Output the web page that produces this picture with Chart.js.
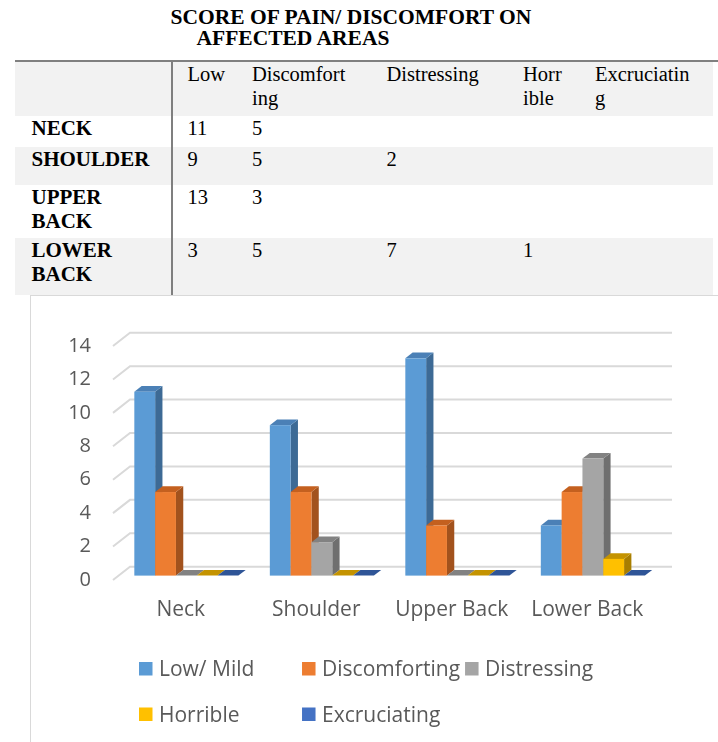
<!DOCTYPE html>
<html>
<head>
<meta charset="utf-8">
<title>Score of pain / discomfort on affected areas</title>
<script src="https://cdn.jsdelivr.net/npm/chart.js@4.4.1/dist/chart.umd.min.js"></script>
<style>
  html, body { margin: 0; padding: 0; background: #ffffff; }
  body {
    width: 718px; height: 742px; position: relative; overflow: hidden;
    font-family: "Liberation Serif", "Times New Roman", serif; color: #000;
  }
  .title {
    position: absolute; font-weight: bold; font-size: 21.5px; line-height: 21.5px;
    white-space: nowrap;
  }
  .cell {
    position: absolute; white-space: nowrap; font-size: 20.5px; line-height: 23.5px;
  }
  .cell.head { font-weight: bold; font-size: 21px; }
  .rowbg { position: absolute; left: 15px; width: 698px; }
  #topRule { position: absolute; left: 15px; top: 60px; width: 703px; height: 2px; background: #808080; }
  #divider { position: absolute; left: 171px; top: 61px; width: 2px; height: 234px; background: #7f7f7f; }
  #panel {
    position: absolute; left: 30px; top: 295px; width: 688px; height: 447px;
    border-left: 1px solid #d9d9d9; border-top: 1px solid #d9d9d9; box-sizing: border-box;
  }
  #chart { position: absolute; left: 31px; top: 296px; }
</style>
</head>
<body>
<div class="title" style="left:170.5px;top:7px;">SCORE OF PAIN/ DISCOMFORT ON</div>
<div class="title" style="left:196.5px;top:28px;">AFFECTED AREAS</div>
<div id="table"></div>
<div id="panel"></div>
<canvas id="chart" width="687" height="446"></canvas>

<script>
// ---- data ----
const categories = ["Neck", "Shoulder", "Upper Back", "Lower Back"];
const seriesNames = ["Low/ Mild", "Discomforting", "Distressing", "Horrible", "Excruciating"];
const lowMild       = [11, 9, 13, 3];
const discomforting = [5, 5, 3, 5];
const distressing   = [0, 2, 0, 7];
const horrible      = [0, 0, 0, 1];
const excruciating  = [0, 0, 0, 0];
const seriesValues = [lowMild, discomforting, distressing, horrible, excruciating];
const yTicks = [0, 2, 4, 6, 8, 10, 12, 14];

// table captions (as typeset, with their word breaks)
const tableHeaders = [["Low"], ["Discomfort", "ing"], ["Distressing"], ["Horr", "ible"], ["Excruciatin", "g"]];
const tableRows = [["NECK"], ["SHOULDER"], ["UPPER", "BACK"], ["LOWER", "BACK"]];

// ---- styles ----
const frontColors = ["#5b9bd5", "#ed7d31", "#a5a5a5", "#ffc000", "#4472c4"];
const sideColors  = ["#3d6a95", "#a2521d", "#6f6f6f", "#a87e00", "#2d4f8c"];
const topColors   = ["#4b80b6", "#c4601f", "#828282", "#c49300", "#2f5597"];

// ---- summary table ----
(function buildTable() {
  const host = document.getElementById("table");
  const rowTops = [62, 116, 147, 185, 238, 295];
  const colX = [187.5, 252, 386.5, 523, 595];
  const add = (cls, style, html) => {
    const d = document.createElement("div");
    d.className = cls; d.setAttribute("style", style);
    if (html !== undefined) d.innerHTML = html;
    host.appendChild(d);
    return d;
  };
  for (let r = 0; r < 5; r++) {
    const bg = (r % 2 === 0) ? "#f2f2f2" : "#ffffff";
    add("rowbg", `top:${rowTops[r]}px;height:${rowTops[r + 1] - rowTops[r]}px;background:${bg};`);
  }
  add("", "").id = "topRule";
  add("", "").id = "divider";
  tableHeaders.forEach((lines, c) => {
    add("cell", `left:${colX[c]}px;top:${rowTops[0] + 1}px;`, lines.join("<br>"));
  });
  tableRows.forEach((lines, r) => {
    const top = rowTops[r + 1] + 1;
    add("cell head", `left:31.5px;top:${top}px;`, lines.join("<br>"));
    seriesValues.forEach((vals, c) => {
      const v = vals[r];
      if (v) add("cell", `left:${colX[c]}px;top:${top}px;`, String(v));
    });
  });
})();

// ---- 3-D column chart ----
const FLOOR_DX = 17, FLOOR_DY = 13.3;   // depth of the floor / walls
const BAR_OFF = 0.33, BAR_DEPTH = 0.43; // bar position and thickness within that depth
const TEXT_GREY = "#595959";
const SANS = '"Open Sans", "Noto Sans", sans-serif';

const columns3d = {
  id: "columns3d",
  beforeDatasetsDraw(chart) {
    const { ctx, chartArea: a, scales: { y } } = chart;
    // gridlines: left wall diagonal + back wall horizontal
    ctx.save();
    ctx.strokeStyle = "#d9d9d9";
    ctx.lineWidth = 2;
    y.ticks.forEach(t => {
      const py = y.getPixelForValue(t.value);
      ctx.beginPath();
      ctx.moveTo(a.left, py);
      ctx.lineTo(a.left + FLOOR_DX, py - FLOOR_DY);
      ctx.lineTo(a.right + FLOOR_DX, py - FLOOR_DY);
      ctx.stroke();
    });
    ctx.restore();

    // columns, drawn category by category, left to right
    const ox = FLOOR_DX * BAR_OFF, oy = FLOOR_DY * BAR_OFF;
    const dx = FLOOR_DX * BAR_DEPTH, dy = FLOOR_DY * BAR_DEPTH;
    const poly = (pts, color) => {
      ctx.beginPath();
      ctx.moveTo(pts[0][0], pts[0][1]);
      for (let k = 1; k < pts.length; k++) ctx.lineTo(pts[k][0], pts[k][1]);
      ctx.closePath();
      ctx.fillStyle = color;
      ctx.fill();
    };
    ctx.save();
    chart.data.labels.forEach((_, j) => {
      chart.data.datasets.forEach((ds, i) => {
        const el = chart.getDatasetMeta(i).data[j];
        const L = el.x - el.width / 2 + ox, R = el.x + el.width / 2 + ox;
        const T = el.y - oy, B = el.base - oy;
        poly([[R, T], [R + dx, T - dy], [R + dx, B - dy], [R, B]], sideColors[i]);
        poly([[L, T], [R, T], [R + dx, T - dy], [L + dx, T - dy]], topColors[i]);
        if (B - T > 0) { ctx.fillStyle = frontColors[i]; ctx.fillRect(L, T, R - L, B - T); }
      });
    });
    ctx.restore();
    return false; // columns are fully drawn here
  },
  afterDraw(chart) {
    // legend laid out on a grid, three entries per row
    const { ctx, chartArea: a } = chart;
    ctx.save();
    ctx.font = `21px ${SANS}`;
    ctx.textBaseline = "alphabetic";
    const box = 13.5, gap = 6.5;
    const widths = chart.data.datasets.map(d => box + gap + ctx.measureText(d.label).width);
    const colW = Math.max(...widths) + 5;
    const left = a.left + 26;
    const baselines = [380, 425.5];
    chart.data.datasets.forEach((d, i) => {
      const col = i % 3, row = Math.floor(i / 3);
      const x = left + col * colW, yb = baselines[row];
      ctx.fillStyle = d.backgroundColor;
      ctx.fillRect(x, yb - 14, box, box);
      ctx.fillStyle = TEXT_GREY;
      ctx.fillText(d.label, x + box + gap, yb);
    });
    ctx.restore();
  }
};

new Chart(document.getElementById("chart"), {
  type: "bar",
  data: {
    labels: categories,
    datasets: seriesNames.map((name, i) => ({
      label: name,
      data: seriesValues[i],
      backgroundColor: frontColors[i],
      barPercentage: 1,
      categoryPercentage: 0.768
    }))
  },
  options: {
    responsive: false,
    animation: false,
    layout: { padding: { top: 50, right: 63, bottom: 0, left: 0 } },
    plugins: { legend: { display: false }, tooltip: { enabled: false } },
    scales: {
      x: {
        grid: { display: false, drawTicks: false },
        border: { display: false },
        ticks: { color: TEXT_GREY, font: { family: SANS, size: 21 }, padding: 17 },
        afterFit(s) { s.height = 162; }
      },
      y: {
        min: 0, max: 14,
        afterBuildTicks(s) { s.ticks = yTicks.map(v => ({ value: v })); },
        grid: { display: false, drawTicks: false },
        border: { display: false },
        ticks: { color: TEXT_GREY, font: { family: SANS, size: 20 }, padding: 22 },
        afterFit(s) { s.width = 82; }
      }
    }
  },
  plugins: [columns3d]
});
</script>
</body>
</html>
